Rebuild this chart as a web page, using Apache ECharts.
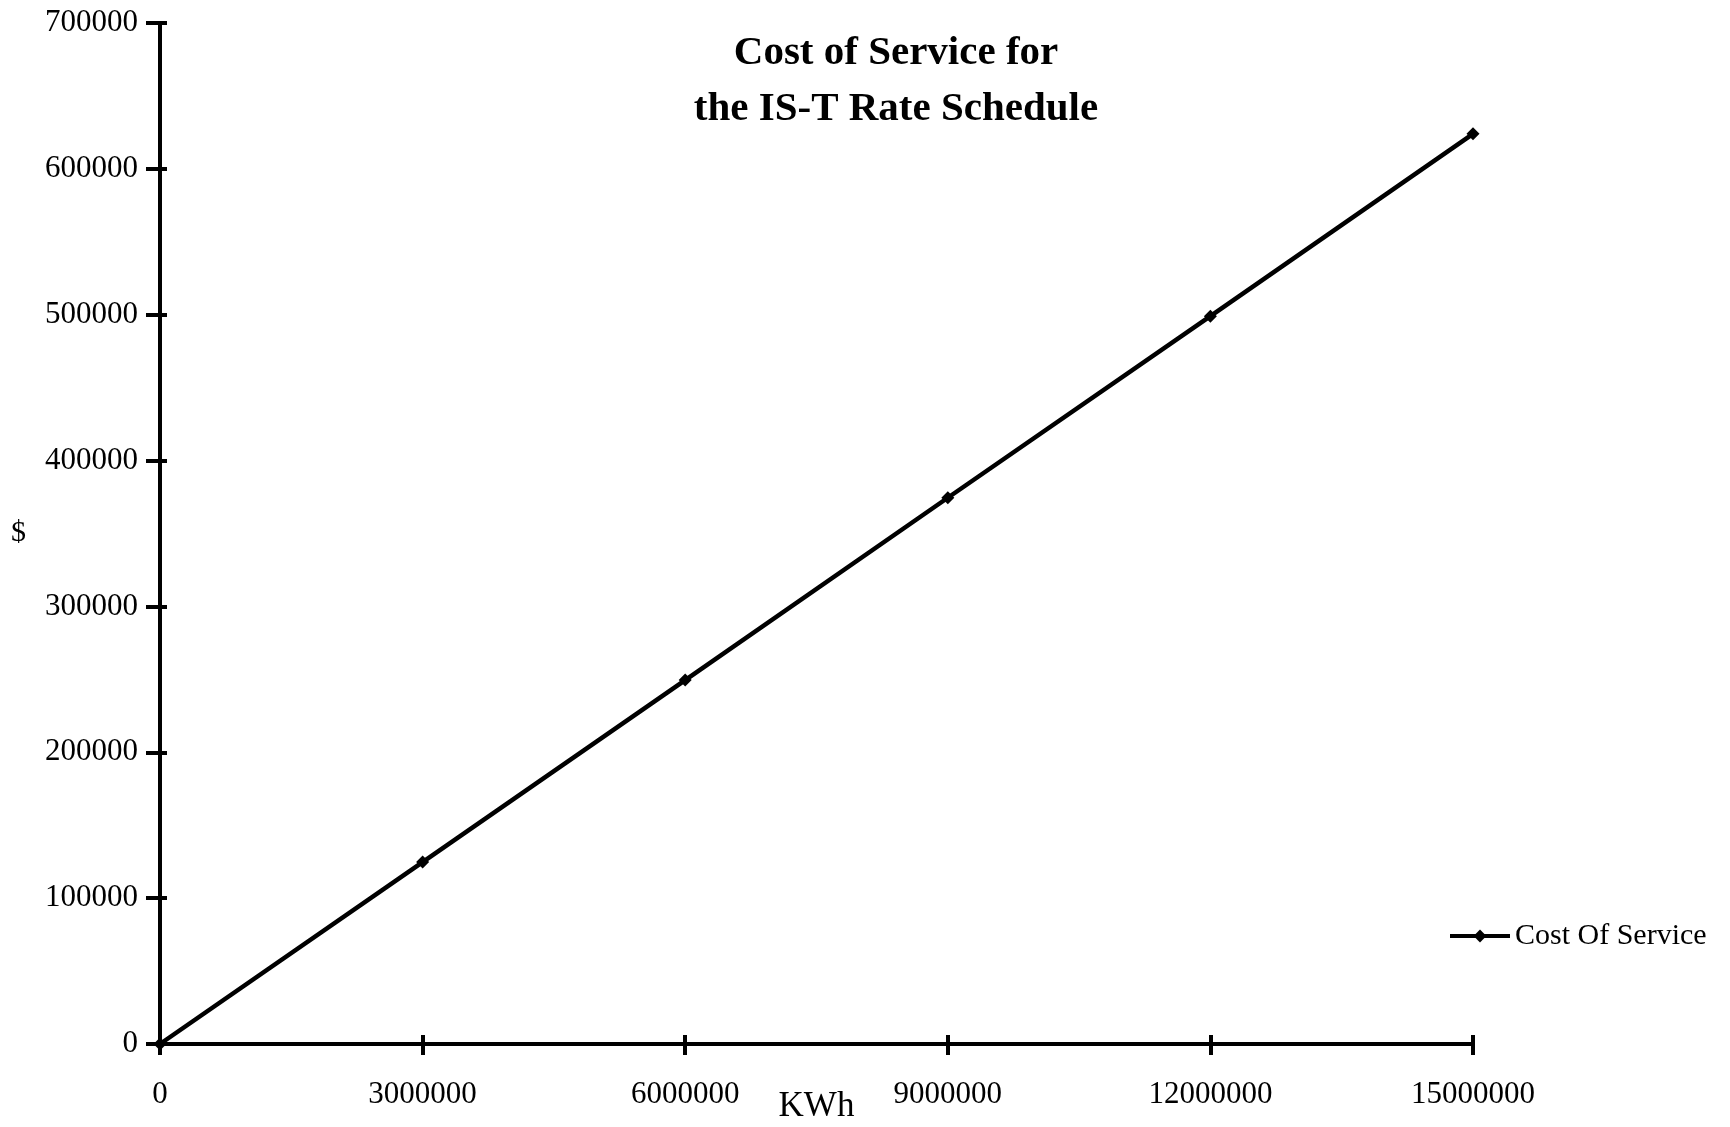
<!DOCTYPE html>
<html>
<head>
<meta charset="utf-8">
<script src="https://cdn.jsdelivr.net/npm/echarts@6/dist/echarts.min.js"></script>
<style>
	html, body { margin: 0; padding: 0; background: #fff; }
	#chart { width: 1730px; height: 1127px; }
</style>
</head>
<body>
<div id="chart"></div>
<script>
// data
var kwh = [0, 3000000, 6000000, 9000000, 12000000, 15000000];
var cost = [0, 124700, 249500, 374500, 499000, 624000];
var seriesName = "Cost Of Service";
var titleText = "Cost of Service for\nthe IS-T Rate Schedule";

var font = "'Liberation Serif', 'DejaVu Serif', serif";

var points = [];
for (var i = 0; i < kwh.length; i++) {
	points.push([kwh[i], cost[i]]);
}

// plain numbers, no thousands separators
var plain = function(v) {
	return String(v);
};

var chart = echarts.init(document.getElementById('chart'));

var option = {
	animation: false,
	backgroundColor: '#fff',
	title: {
		text: titleText,
		left: 891,
		top: 20,
		textAlign: 'center',
		textStyle: {
			fontFamily: font,
			fontWeight: 'bold',
			fontSize: 41,
			lineHeight: 56,
			color: '#000'
		}
	},
	legend: {
		data: [seriesName],
		left: 1443,
		top: 916,
		itemWidth: 60,
		itemHeight: 16,
		itemGap: 4,
		lineStyle: { width: 4 },
		textStyle: { fontFamily: font, fontSize: 30, color: '#000' }
	},
	grid: { left: 160, right: 257, top: 23, bottom: 83, outerBoundsMode: 'none' },
	xAxis: [{
		type: 'value',
		min: 0,
		max: 15000000,
		interval: 3000000,
		position: 'bottom',
		name: 'KWh',
		nameLocation: 'middle',
		nameGap: 45,
		nameMoveOverlap: false,
		nameTextStyle: { fontFamily: font, fontSize: 35, color: '#000' },
		axisLine: { lineStyle: { color: '#000', width: 4 } },
		axisTick: { length: 11, lineStyle: { color: '#000', width: 4 } },
		axisLabel: { fontFamily: font, fontSize: 31, color: '#000', margin: 35, formatter: plain },
		splitLine: { show: false }
	}, {
		type: 'value',
		min: 0,
		max: 15000000,
		interval: 3000000,
		position: 'bottom',
		axisLine: { show: false },
		axisTick: { inside: true, length: 9, lineStyle: { color: '#000', width: 4 } },
		axisLabel: { show: false },
		splitLine: { show: false }
	}],
	yAxis: [{
		type: 'value',
		min: 0,
		max: 700000,
		interval: 100000,
		position: 'left',
		name: '$',
		nameLocation: 'middle',
		nameRotate: 0,
		nameGap: 134,
		nameMoveOverlap: false,
		nameTextStyle: { fontFamily: font, fontSize: 30, color: '#000' },
		axisLine: { lineStyle: { color: '#000', width: 4 } },
		axisTick: { length: 14, lineStyle: { color: '#000', width: 4 } },
		axisLabel: { fontFamily: font, fontSize: 31, color: '#000', margin: 22, formatter: plain },
		splitLine: { show: false }
	}, {
		type: 'value',
		min: 0,
		max: 700000,
		interval: 100000,
		position: 'left',
		axisLine: { show: false },
		axisTick: { inside: true, length: 7, lineStyle: { color: '#000', width: 4 } },
		axisLabel: { show: false },
		splitLine: { show: false }
	}],
	series: [{
		name: seriesName,
		type: 'line',
		xAxisIndex: 0,
		yAxisIndex: 0,
		data: points,
		symbol: 'diamond',
		symbolSize: 13,
		itemStyle: { color: '#000' },
		lineStyle: { color: '#000', width: 4.5 }
	}]
};

chart.setOption(option);
</script>
</body>
</html>
